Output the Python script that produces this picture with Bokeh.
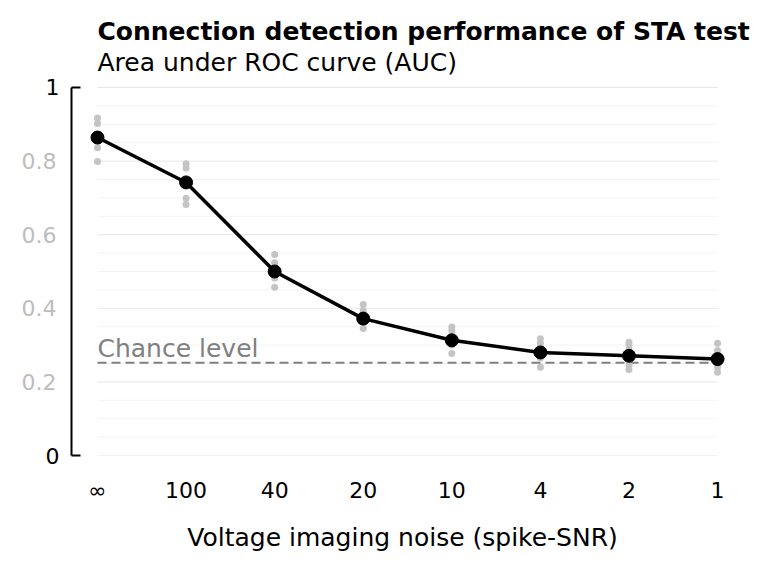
from bokeh.plotting import figure
from bokeh.models import FixedTicker, Label, Title, Range1d, LinearAxis
from bokeh.embed import file_html
from bokeh.resources import INLINE

# ---- data ----
categories = ["∞", "100", "40", "20", "10", "4", "2", "1"]
mean_auc = [0.864, 0.742, 0.500, 0.372, 0.313, 0.280, 0.271, 0.262]
trial_auc = [
    [0.917, 0.902, 0.870, 0.855, 0.836, 0.799],
    [0.793, 0.781, 0.745, 0.735, 0.699, 0.682],
    [0.546, 0.524, 0.510, 0.490, 0.482, 0.457],
    [0.410, 0.394, 0.380, 0.362, 0.345],
    [0.349, 0.340, 0.325, 0.300, 0.277],
    [0.317, 0.305, 0.292, 0.265, 0.240],
    [0.308, 0.299, 0.285, 0.245, 0.234],
    [0.305, 0.285, 0.270, 0.240, 0.226],
]
chance_level = 0.252
y_black_ticks = [0, 1]
y_grey_ticks = [0.2, 0.4, 0.6, 0.8]
grid_major = [0.0, 0.2, 0.4, 0.6, 0.8, 1.0]
grid_minor = [0.05, 0.1, 0.15, 0.25, 0.3, 0.35, 0.45, 0.5, 0.55,
              0.65, 0.7, 0.75, 0.85, 0.9, 0.95]
title_text = "Connection detection performance of STA test"
subtitle_text = "Area under ROC curve (AUC)"

FONT = "DejaVu Sans"
n = len(categories)
xs = list(range(n))
X_START, X_END = -0.2935, 7.18
Y_END = 1.1141          # head-room above 1 for the subtitle line
SUBTITLE_Y = 1.068

p = figure(width=771, height=569, output_backend="svg", toolbar_location=None,
           x_range=Range1d(X_START, X_END), y_range=Range1d(0, Y_END),
           min_border_left=71, min_border_right=38, min_border_top=45,
           min_border_bottom=114, title=None, y_axis_location=None)
p.outline_line_color = None
p.xgrid.visible = False
p.ygrid.visible = False

# gridlines spanning the data extent
p.segment(x0=[0] * len(grid_minor), x1=[n - 1] * len(grid_minor), y0=grid_minor, y1=grid_minor,
          line_color="#f3f3f3", line_width=1)
p.segment(x0=[0] * len(grid_major), x1=[n - 1] * len(grid_major), y0=grid_major, y1=grid_major,
          line_color="#e6e6e6", line_width=1)

# chance level
p.line(x=[0, n - 1], y=[chance_level, chance_level], line_color="#808080",
       line_width=2, line_dash="9 5")
p.add_layout(Label(x=0, y=chance_level, text="Chance level", text_color="#808080",
                   text_font=FONT, text_font_size="25px", text_baseline="bottom",
                   text_align="left", y_offset=0))

# trial points
tx, ty = [], []
for i, vals in enumerate(trial_auc):
    for v in vals:
        tx.append(i)
        ty.append(v)
p.scatter(tx, ty, size=7, color="#c4c4c4", line_color=None)

# mean line
p.line(xs, mean_auc, line_color="black", line_width=3.5)
p.scatter(xs, mean_auc, size=13, color="black")

# x axis
xa = p.xaxis[0]
xa.ticker = FixedTicker(ticks=xs)
xa.major_label_overrides = {i: c for i, c in enumerate(categories)}
xa.axis_line_color = None
xa.major_tick_line_color = None
xa.minor_tick_line_color = None
xa.major_label_standoff = 16
xa.major_label_text_font = FONT
xa.major_label_text_font_size = "22px"
xa.major_label_text_color = "black"
xa.axis_label = "Voltage imaging noise (spike-SNR)"
xa.axis_label_text_font = FONT
xa.axis_label_text_font_size = "25px"
xa.axis_label_text_font_style = "normal"
xa.axis_label_text_color = "black"
xa.axis_label_standoff = 17

# y axes: inner black spine with 0/1; outer grey labels pulled into the same column
ya = LinearAxis(ticker=FixedTicker(ticks=y_black_ticks, minor_ticks=[]), bounds=(0, 1))
ya.axis_line_width = 2
ya.axis_line_color = "black"
ya.major_tick_in = 9
ya.major_tick_out = 0
ya.major_tick_line_width = 2
ya.minor_tick_line_color = None
ya.major_label_standoff = 12
ya.major_label_text_font = FONT
ya.major_label_text_font_size = "22px"
ya.major_label_text_color = "black"
p.add_layout(ya, "left")

yg = LinearAxis(ticker=FixedTicker(ticks=y_grey_ticks, minor_ticks=[]), bounds=(0, 1))
yg.axis_line_color = None
yg.major_tick_line_color = None
yg.minor_tick_line_color = None
yg.major_tick_in = 0
yg.major_tick_out = 0
yg.major_label_standoff = -14
yg.major_label_text_font = FONT
yg.major_label_text_font_size = "22px"
yg.major_label_text_color = "#bdbdbd"
p.add_layout(yg, "left")

# subtitle (inside the head-room) and bold title (above the frame)
p.add_layout(Label(x=0, y=SUBTITLE_Y, text=subtitle_text, text_color="black",
                   text_font=FONT, text_font_size="25px", text_baseline="alphabetic",
                   text_align="left"))
p.add_layout(Title(text=title_text, text_font=FONT,
                   text_font_size="25px", text_font_style="bold", align="left",
                   text_color="black", offset=26, standoff=0), "above")

open("out.html", "w").write(file_html(p, INLINE))
